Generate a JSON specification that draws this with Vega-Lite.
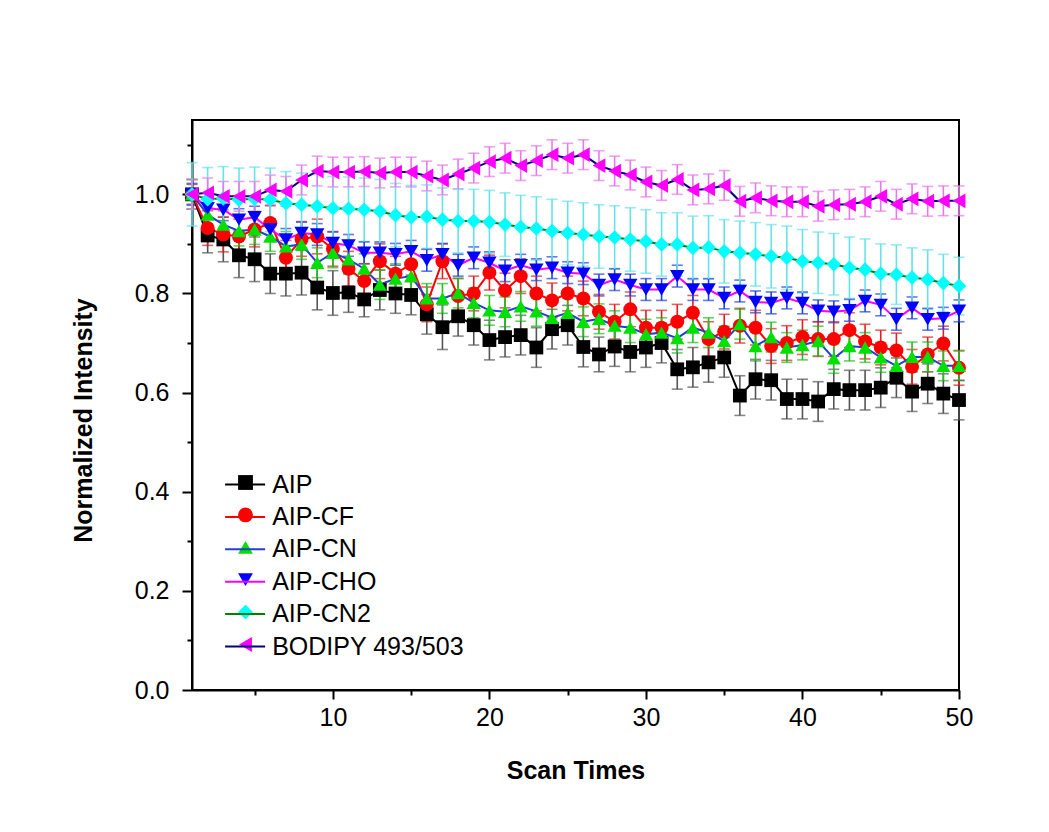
{
  "$schema": "https://vega.github.io/schema/vega-lite/v6.json",
  "width": 767,
  "height": 570,
  "autosize": "none",
  "padding": {"left": 192, "top": 120, "right": 90, "bottom": 142},
  "background": "white",
  "config": {
    "font": "Liberation Sans",
    "view": {"stroke": "black", "strokeWidth": 2},
    "axis": {"domainColor": "black", "domainWidth": 2, "tickColor": "black", "tickWidth": 2, "labelColor": "black", "titleColor": "black", "grid": false, "labelFont": "Liberation Sans", "titleFont": "Liberation Sans"}
  },
  "datasets": {
    "d": [
      {"s":"AIP","x":1,"y":1.0,"e":0.02},{"s":"AIP","x":2,"y":0.917,"e":0.035},{"s":"AIP","x":3,"y":0.909,"e":0.045},{"s":"AIP","x":4,"y":0.877,"e":0.045},{"s":"AIP","x":5,"y":0.869,"e":0.045},{"s":"AIP","x":6,"y":0.84,"e":0.04},{"s":"AIP","x":7,"y":0.84,"e":0.045},{"s":"AIP","x":8,"y":0.842,"e":0.045},{"s":"AIP","x":9,"y":0.812,"e":0.045},{"s":"AIP","x":10,"y":0.801,"e":0.045},
      {"s":"AIP","x":11,"y":0.802,"e":0.04},{"s":"AIP","x":12,"y":0.788,"e":0.035},{"s":"AIP","x":13,"y":0.807,"e":0.04},{"s":"AIP","x":14,"y":0.8,"e":0.04},{"s":"AIP","x":15,"y":0.797,"e":0.04},{"s":"AIP","x":16,"y":0.758,"e":0.04},{"s":"AIP","x":17,"y":0.732,"e":0.045},{"s":"AIP","x":18,"y":0.754,"e":0.04},{"s":"AIP","x":19,"y":0.736,"e":0.04},{"s":"AIP","x":20,"y":0.706,"e":0.04},
      {"s":"AIP","x":21,"y":0.712,"e":0.04},{"s":"AIP","x":22,"y":0.716,"e":0.04},{"s":"AIP","x":23,"y":0.691,"e":0.04},{"s":"AIP","x":24,"y":0.728,"e":0.04},{"s":"AIP","x":25,"y":0.736,"e":0.04},{"s":"AIP","x":26,"y":0.692,"e":0.04},{"s":"AIP","x":27,"y":0.677,"e":0.035},{"s":"AIP","x":28,"y":0.693,"e":0.04},{"s":"AIP","x":29,"y":0.682,"e":0.04},{"s":"AIP","x":30,"y":0.691,"e":0.04},
      {"s":"AIP","x":31,"y":0.7,"e":0.04},{"s":"AIP","x":32,"y":0.647,"e":0.04},{"s":"AIP","x":33,"y":0.651,"e":0.04},{"s":"AIP","x":34,"y":0.661,"e":0.04},{"s":"AIP","x":35,"y":0.671,"e":0.04},{"s":"AIP","x":36,"y":0.594,"e":0.04},{"s":"AIP","x":37,"y":0.627,"e":0.04},{"s":"AIP","x":38,"y":0.625,"e":0.04},{"s":"AIP","x":39,"y":0.587,"e":0.04},{"s":"AIP","x":40,"y":0.587,"e":0.04},
      {"s":"AIP","x":41,"y":0.582,"e":0.04},{"s":"AIP","x":42,"y":0.607,"e":0.04},{"s":"AIP","x":43,"y":0.605,"e":0.04},{"s":"AIP","x":44,"y":0.605,"e":0.04},{"s":"AIP","x":45,"y":0.61,"e":0.04},{"s":"AIP","x":46,"y":0.63,"e":0.04},{"s":"AIP","x":47,"y":0.602,"e":0.04},{"s":"AIP","x":48,"y":0.618,"e":0.04},{"s":"AIP","x":49,"y":0.598,"e":0.04},{"s":"AIP","x":50,"y":0.585,"e":0.04},

      {"s":"AIP-CF","x":1,"y":1.0,"e":0.03},{"s":"AIP-CF","x":2,"y":0.932,"e":0.035},{"s":"AIP-CF","x":3,"y":0.919,"e":0.035},{"s":"AIP-CF","x":4,"y":0.915,"e":0.035},{"s":"AIP-CF","x":5,"y":0.929,"e":0.035},{"s":"AIP-CF","x":6,"y":0.942,"e":0.035},{"s":"AIP-CF","x":7,"y":0.872,"e":0.035},{"s":"AIP-CF","x":8,"y":0.91,"e":0.035},{"s":"AIP-CF","x":9,"y":0.915,"e":0.035},{"s":"AIP-CF","x":10,"y":0.89,"e":0.035},
      {"s":"AIP-CF","x":11,"y":0.85,"e":0.035},{"s":"AIP-CF","x":12,"y":0.825,"e":0.035},{"s":"AIP-CF","x":13,"y":0.865,"e":0.035},{"s":"AIP-CF","x":14,"y":0.84,"e":0.035},{"s":"AIP-CF","x":15,"y":0.859,"e":0.035},{"s":"AIP-CF","x":16,"y":0.778,"e":0.035},{"s":"AIP-CF","x":17,"y":0.865,"e":0.035},{"s":"AIP-CF","x":18,"y":0.795,"e":0.035},{"s":"AIP-CF","x":19,"y":0.8,"e":0.035},{"s":"AIP-CF","x":20,"y":0.842,"e":0.035},
      {"s":"AIP-CF","x":21,"y":0.806,"e":0.035},{"s":"AIP-CF","x":22,"y":0.835,"e":0.035},{"s":"AIP-CF","x":23,"y":0.8,"e":0.035},{"s":"AIP-CF","x":24,"y":0.786,"e":0.035},{"s":"AIP-CF","x":25,"y":0.8,"e":0.035},{"s":"AIP-CF","x":26,"y":0.79,"e":0.035},{"s":"AIP-CF","x":27,"y":0.763,"e":0.035},{"s":"AIP-CF","x":28,"y":0.743,"e":0.035},{"s":"AIP-CF","x":29,"y":0.768,"e":0.035},{"s":"AIP-CF","x":30,"y":0.731,"e":0.035},
      {"s":"AIP-CF","x":31,"y":0.731,"e":0.035},{"s":"AIP-CF","x":32,"y":0.743,"e":0.035},{"s":"AIP-CF","x":33,"y":0.761,"e":0.035},{"s":"AIP-CF","x":34,"y":0.708,"e":0.035},{"s":"AIP-CF","x":35,"y":0.723,"e":0.035},{"s":"AIP-CF","x":36,"y":0.735,"e":0.035},{"s":"AIP-CF","x":37,"y":0.731,"e":0.035},{"s":"AIP-CF","x":38,"y":0.694,"e":0.035},{"s":"AIP-CF","x":39,"y":0.7,"e":0.035},{"s":"AIP-CF","x":40,"y":0.712,"e":0.035},
      {"s":"AIP-CF","x":41,"y":0.708,"e":0.035},{"s":"AIP-CF","x":42,"y":0.708,"e":0.035},{"s":"AIP-CF","x":43,"y":0.726,"e":0.035},{"s":"AIP-CF","x":44,"y":0.703,"e":0.035},{"s":"AIP-CF","x":45,"y":0.691,"e":0.035},{"s":"AIP-CF","x":46,"y":0.685,"e":0.035},{"s":"AIP-CF","x":47,"y":0.652,"e":0.035},{"s":"AIP-CF","x":48,"y":0.677,"e":0.035},{"s":"AIP-CF","x":49,"y":0.699,"e":0.035},{"s":"AIP-CF","x":50,"y":0.65,"e":0.035},

      {"s":"AIP-CN","x":1,"y":1.0,"e":0.03},{"s":"AIP-CN","x":2,"y":0.959,"e":0.03},{"s":"AIP-CN","x":3,"y":0.939,"e":0.03},{"s":"AIP-CN","x":4,"y":0.926,"e":0.03},{"s":"AIP-CN","x":5,"y":0.929,"e":0.03},{"s":"AIP-CN","x":6,"y":0.915,"e":0.03},{"s":"AIP-CN","x":7,"y":0.895,"e":0.03},{"s":"AIP-CN","x":8,"y":0.899,"e":0.03},{"s":"AIP-CN","x":9,"y":0.862,"e":0.03},{"s":"AIP-CN","x":10,"y":0.882,"e":0.03},
      {"s":"AIP-CN","x":11,"y":0.869,"e":0.03},{"s":"AIP-CN","x":12,"y":0.85,"e":0.03},{"s":"AIP-CN","x":13,"y":0.818,"e":0.03},{"s":"AIP-CN","x":14,"y":0.83,"e":0.03},{"s":"AIP-CN","x":15,"y":0.835,"e":0.03},{"s":"AIP-CN","x":16,"y":0.79,"e":0.03},{"s":"AIP-CN","x":17,"y":0.79,"e":0.03},{"s":"AIP-CN","x":18,"y":0.801,"e":0.03},{"s":"AIP-CN","x":19,"y":0.781,"e":0.03},{"s":"AIP-CN","x":20,"y":0.766,"e":0.03},
      {"s":"AIP-CN","x":21,"y":0.763,"e":0.03},{"s":"AIP-CN","x":22,"y":0.774,"e":0.03},{"s":"AIP-CN","x":23,"y":0.764,"e":0.03},{"s":"AIP-CN","x":24,"y":0.751,"e":0.03},{"s":"AIP-CN","x":25,"y":0.761,"e":0.03},{"s":"AIP-CN","x":26,"y":0.743,"e":0.03},{"s":"AIP-CN","x":27,"y":0.749,"e":0.03},{"s":"AIP-CN","x":28,"y":0.735,"e":0.03},{"s":"AIP-CN","x":29,"y":0.731,"e":0.03},{"s":"AIP-CN","x":30,"y":0.718,"e":0.03},
      {"s":"AIP-CN","x":31,"y":0.721,"e":0.03},{"s":"AIP-CN","x":32,"y":0.71,"e":0.03},{"s":"AIP-CN","x":33,"y":0.731,"e":0.03},{"s":"AIP-CN","x":34,"y":0.721,"e":0.03},{"s":"AIP-CN","x":35,"y":0.704,"e":0.03},{"s":"AIP-CN","x":36,"y":0.738,"e":0.03},{"s":"AIP-CN","x":37,"y":0.694,"e":0.03},{"s":"AIP-CN","x":38,"y":0.712,"e":0.03},{"s":"AIP-CN","x":39,"y":0.691,"e":0.03},{"s":"AIP-CN","x":40,"y":0.696,"e":0.03},
      {"s":"AIP-CN","x":41,"y":0.704,"e":0.03},{"s":"AIP-CN","x":42,"y":0.669,"e":0.03},{"s":"AIP-CN","x":43,"y":0.694,"e":0.03},{"s":"AIP-CN","x":44,"y":0.691,"e":0.03},{"s":"AIP-CN","x":45,"y":0.671,"e":0.03},{"s":"AIP-CN","x":46,"y":0.654,"e":0.03},{"s":"AIP-CN","x":47,"y":0.672,"e":0.03},{"s":"AIP-CN","x":48,"y":0.672,"e":0.03},{"s":"AIP-CN","x":49,"y":0.654,"e":0.03},{"s":"AIP-CN","x":50,"y":0.654,"e":0.03},

      {"s":"AIP-CHO","x":1,"y":1.0,"e":0.022},{"s":"AIP-CHO","x":2,"y":0.972,"e":0.022},{"s":"AIP-CHO","x":3,"y":0.969,"e":0.022},{"s":"AIP-CHO","x":4,"y":0.949,"e":0.022},{"s":"AIP-CHO","x":5,"y":0.954,"e":0.022},{"s":"AIP-CHO","x":6,"y":0.929,"e":0.022},{"s":"AIP-CHO","x":7,"y":0.909,"e":0.022},{"s":"AIP-CHO","x":8,"y":0.922,"e":0.022},{"s":"AIP-CHO","x":9,"y":0.919,"e":0.022},{"s":"AIP-CHO","x":10,"y":0.902,"e":0.022},
      {"s":"AIP-CHO","x":11,"y":0.897,"e":0.022},{"s":"AIP-CHO","x":12,"y":0.882,"e":0.022},{"s":"AIP-CHO","x":13,"y":0.882,"e":0.022},{"s":"AIP-CHO","x":14,"y":0.879,"e":0.022},{"s":"AIP-CHO","x":15,"y":0.885,"e":0.022},{"s":"AIP-CHO","x":16,"y":0.867,"e":0.022},{"s":"AIP-CHO","x":17,"y":0.879,"e":0.022},{"s":"AIP-CHO","x":18,"y":0.857,"e":0.022},{"s":"AIP-CHO","x":19,"y":0.872,"e":0.022},{"s":"AIP-CHO","x":20,"y":0.862,"e":0.022},
      {"s":"AIP-CHO","x":21,"y":0.846,"e":0.022},{"s":"AIP-CHO","x":22,"y":0.857,"e":0.022},{"s":"AIP-CHO","x":23,"y":0.848,"e":0.022},{"s":"AIP-CHO","x":24,"y":0.852,"e":0.022},{"s":"AIP-CHO","x":25,"y":0.842,"e":0.022},{"s":"AIP-CHO","x":26,"y":0.84,"e":0.022},{"s":"AIP-CHO","x":27,"y":0.817,"e":0.022},{"s":"AIP-CHO","x":28,"y":0.828,"e":0.022},{"s":"AIP-CHO","x":29,"y":0.817,"e":0.022},{"s":"AIP-CHO","x":30,"y":0.808,"e":0.022},
      {"s":"AIP-CHO","x":31,"y":0.808,"e":0.022},{"s":"AIP-CHO","x":32,"y":0.835,"e":0.022},{"s":"AIP-CHO","x":33,"y":0.808,"e":0.022},{"s":"AIP-CHO","x":34,"y":0.808,"e":0.022},{"s":"AIP-CHO","x":35,"y":0.791,"e":0.022},{"s":"AIP-CHO","x":36,"y":0.805,"e":0.022},{"s":"AIP-CHO","x":37,"y":0.783,"e":0.022},{"s":"AIP-CHO","x":38,"y":0.781,"e":0.022},{"s":"AIP-CHO","x":39,"y":0.791,"e":0.022},{"s":"AIP-CHO","x":40,"y":0.781,"e":0.022},
      {"s":"AIP-CHO","x":41,"y":0.765,"e":0.022},{"s":"AIP-CHO","x":42,"y":0.763,"e":0.022},{"s":"AIP-CHO","x":43,"y":0.766,"e":0.022},{"s":"AIP-CHO","x":44,"y":0.785,"e":0.022},{"s":"AIP-CHO","x":45,"y":0.777,"e":0.022},{"s":"AIP-CHO","x":46,"y":0.748,"e":0.022},{"s":"AIP-CHO","x":47,"y":0.771,"e":0.022},{"s":"AIP-CHO","x":48,"y":0.748,"e":0.022},{"s":"AIP-CHO","x":49,"y":0.75,"e":0.022},{"s":"AIP-CHO","x":50,"y":0.765,"e":0.022},

      {"s":"AIP-CN2","x":1,"y":1.0,"e":0.064},{"s":"AIP-CN2","x":2,"y":0.99,"e":0.064},{"s":"AIP-CN2","x":3,"y":0.992,"e":0.064},{"s":"AIP-CN2","x":4,"y":0.989,"e":0.064},{"s":"AIP-CN2","x":5,"y":0.991,"e":0.064},{"s":"AIP-CN2","x":6,"y":0.989,"e":0.064},{"s":"AIP-CN2","x":7,"y":0.982,"e":0.064},{"s":"AIP-CN2","x":8,"y":0.979,"e":0.064},{"s":"AIP-CN2","x":9,"y":0.976,"e":0.064},{"s":"AIP-CN2","x":10,"y":0.972,"e":0.064},
      {"s":"AIP-CN2","x":11,"y":0.971,"e":0.064},{"s":"AIP-CN2","x":12,"y":0.969,"e":0.064},{"s":"AIP-CN2","x":13,"y":0.966,"e":0.064},{"s":"AIP-CN2","x":14,"y":0.958,"e":0.064},{"s":"AIP-CN2","x":15,"y":0.954,"e":0.064},{"s":"AIP-CN2","x":16,"y":0.955,"e":0.064},{"s":"AIP-CN2","x":17,"y":0.949,"e":0.064},{"s":"AIP-CN2","x":18,"y":0.946,"e":0.064},{"s":"AIP-CN2","x":19,"y":0.946,"e":0.064},{"s":"AIP-CN2","x":20,"y":0.944,"e":0.064},
      {"s":"AIP-CN2","x":21,"y":0.939,"e":0.064},{"s":"AIP-CN2","x":22,"y":0.934,"e":0.064},{"s":"AIP-CN2","x":23,"y":0.931,"e":0.064},{"s":"AIP-CN2","x":24,"y":0.926,"e":0.064},{"s":"AIP-CN2","x":25,"y":0.922,"e":0.064},{"s":"AIP-CN2","x":26,"y":0.919,"e":0.064},{"s":"AIP-CN2","x":27,"y":0.915,"e":0.064},{"s":"AIP-CN2","x":28,"y":0.913,"e":0.064},{"s":"AIP-CN2","x":29,"y":0.909,"e":0.064},{"s":"AIP-CN2","x":30,"y":0.905,"e":0.064},
      {"s":"AIP-CN2","x":31,"y":0.899,"e":0.064},{"s":"AIP-CN2","x":32,"y":0.899,"e":0.064},{"s":"AIP-CN2","x":33,"y":0.892,"e":0.064},{"s":"AIP-CN2","x":34,"y":0.893,"e":0.064},{"s":"AIP-CN2","x":35,"y":0.885,"e":0.064},{"s":"AIP-CN2","x":36,"y":0.882,"e":0.064},{"s":"AIP-CN2","x":37,"y":0.879,"e":0.064},{"s":"AIP-CN2","x":38,"y":0.875,"e":0.064},{"s":"AIP-CN2","x":39,"y":0.872,"e":0.064},{"s":"AIP-CN2","x":40,"y":0.865,"e":0.064},
      {"s":"AIP-CN2","x":41,"y":0.862,"e":0.062},{"s":"AIP-CN2","x":42,"y":0.859,"e":0.062},{"s":"AIP-CN2","x":43,"y":0.852,"e":0.062},{"s":"AIP-CN2","x":44,"y":0.848,"e":0.062},{"s":"AIP-CN2","x":45,"y":0.84,"e":0.06},{"s":"AIP-CN2","x":46,"y":0.838,"e":0.06},{"s":"AIP-CN2","x":47,"y":0.832,"e":0.06},{"s":"AIP-CN2","x":48,"y":0.828,"e":0.06},{"s":"AIP-CN2","x":49,"y":0.821,"e":0.058},{"s":"AIP-CN2","x":50,"y":0.815,"e":0.058},

      {"s":"BODIPY 493/503","x":1,"y":1.0,"e":0.03},{"s":"BODIPY 493/503","x":2,"y":1.003,"e":0.03},{"s":"BODIPY 493/503","x":3,"y":0.996,"e":0.03},{"s":"BODIPY 493/503","x":4,"y":0.996,"e":0.03},{"s":"BODIPY 493/503","x":5,"y":0.996,"e":0.03},{"s":"BODIPY 493/503","x":6,"y":1.009,"e":0.03},{"s":"BODIPY 493/503","x":7,"y":1.006,"e":0.03},{"s":"BODIPY 493/503","x":8,"y":1.029,"e":0.03},{"s":"BODIPY 493/503","x":9,"y":1.047,"e":0.03},{"s":"BODIPY 493/503","x":10,"y":1.045,"e":0.03},
      {"s":"BODIPY 493/503","x":11,"y":1.045,"e":0.03},{"s":"BODIPY 493/503","x":12,"y":1.046,"e":0.03},{"s":"BODIPY 493/503","x":13,"y":1.043,"e":0.03},{"s":"BODIPY 493/503","x":14,"y":1.045,"e":0.03},{"s":"BODIPY 493/503","x":15,"y":1.045,"e":0.03},{"s":"BODIPY 493/503","x":16,"y":1.037,"e":0.03},{"s":"BODIPY 493/503","x":17,"y":1.029,"e":0.03},{"s":"BODIPY 493/503","x":18,"y":1.041,"e":0.03},{"s":"BODIPY 493/503","x":19,"y":1.053,"e":0.03},{"s":"BODIPY 493/503","x":20,"y":1.066,"e":0.03},
      {"s":"BODIPY 493/503","x":21,"y":1.073,"e":0.03},{"s":"BODIPY 493/503","x":22,"y":1.058,"e":0.03},{"s":"BODIPY 493/503","x":23,"y":1.068,"e":0.03},{"s":"BODIPY 493/503","x":24,"y":1.08,"e":0.03},{"s":"BODIPY 493/503","x":25,"y":1.073,"e":0.03},{"s":"BODIPY 493/503","x":26,"y":1.08,"e":0.03},{"s":"BODIPY 493/503","x":27,"y":1.058,"e":0.03},{"s":"BODIPY 493/503","x":28,"y":1.047,"e":0.03},{"s":"BODIPY 493/503","x":29,"y":1.039,"e":0.03},{"s":"BODIPY 493/503","x":30,"y":1.025,"e":0.03},
      {"s":"BODIPY 493/503","x":31,"y":1.018,"e":0.03},{"s":"BODIPY 493/503","x":32,"y":1.03,"e":0.03},{"s":"BODIPY 493/503","x":33,"y":1.009,"e":0.03},{"s":"BODIPY 493/503","x":34,"y":1.011,"e":0.03},{"s":"BODIPY 493/503","x":35,"y":1.018,"e":0.03},{"s":"BODIPY 493/503","x":36,"y":0.986,"e":0.03},{"s":"BODIPY 493/503","x":37,"y":0.993,"e":0.03},{"s":"BODIPY 493/503","x":38,"y":0.987,"e":0.03},{"s":"BODIPY 493/503","x":39,"y":0.985,"e":0.03},{"s":"BODIPY 493/503","x":40,"y":0.985,"e":0.03},
      {"s":"BODIPY 493/503","x":41,"y":0.976,"e":0.03},{"s":"BODIPY 493/503","x":42,"y":0.979,"e":0.03},{"s":"BODIPY 493/503","x":43,"y":0.98,"e":0.03},{"s":"BODIPY 493/503","x":44,"y":0.985,"e":0.03},{"s":"BODIPY 493/503","x":45,"y":0.996,"e":0.03},{"s":"BODIPY 493/503","x":46,"y":0.98,"e":0.03},{"s":"BODIPY 493/503","x":47,"y":0.991,"e":0.03},{"s":"BODIPY 493/503","x":48,"y":0.986,"e":0.03},{"s":"BODIPY 493/503","x":49,"y":0.987,"e":0.03},{"s":"BODIPY 493/503","x":50,"y":0.987,"e":0.03}
    ]
  },
  "data": {"name": "d"},
  "encoding": {
    "x": {
      "field": "x", "type": "quantitative",
      "scale": {"domain": [1, 50], "nice": false, "zero": false},
      "axis": {
        "title": "Scan Times", "titleFontSize": 25, "titleFontWeight": "bold",
        "titleBaseline": "alphabetic", "titleY": 88,
        "values": [5, 10, 15, 20, 25, 30, 35, 40, 45, 50],
        "labelExpr": "datum.value % 10 === 0 ? datum.label : ''",
        "labelFontSize": 25, "labelPadding": 6,
        "tickSize": {"condition": {"test": "datum.value % 10 === 0", "value": 9}, "value": 5},
        "labelFlush": false
      }
    },
    "y": {
      "field": "y", "type": "quantitative",
      "scale": {"domain": [0, 1.15], "nice": false, "zero": false},
      "axis": {
        "title": "Normalized Intensity", "titleFontSize": 25, "titleFontWeight": "bold",
        "titleX": -109, "titleY": 300, "titleBaseline": "middle", "titleAlign": "center", "titleAngle": -90,
        "values": [0, 0.1, 0.2, 0.3, 0.4, 0.5, 0.6, 0.7, 0.8, 0.9, 1.0, 1.1],
        "format": ".1f",
        "labelExpr": "round(datum.value * 10) % 2 === 0 ? datum.label : ''",
        "labelFontSize": 25, "labelPadding": 13,
        "tickSize": {"condition": {"test": "round(datum.value * 10) % 2 === 0", "value": 10}, "value": 5}
      }
    }
  },
  "layer": [
    {
      "mark": {"type": "point", "filled": true, "opacity": 1, "strokeWidth": 0},
      "encoding": {
        "fill": {
          "field": "s", "type": "nominal",
          "scale": {"domain": ["AIP", "AIP-CF", "AIP-CN", "AIP-CHO", "AIP-CN2", "BODIPY 493/503"],
                    "range": ["#000000", "#ff0000", "#00e000", "#0000ff", "#00ffff", "#ff00ff"]},
          "legend": {
            "title": null, "orient": "none", "direction": "vertical", "legendX": 41, "legendY": 350,
            "symbolSize": 220, "symbolStrokeWidth": 0, "symbolOpacity": 1,
            "labelFontSize": 25, "labelFont": "Liberation Sans", "labelExpr": "''", "labelLimit": 400,
            "labelOffset": 8, "rowPadding": 6.4
          }
        },
        "shape": {
          "field": "s", "type": "nominal",
          "scale": {"domain": ["AIP", "AIP-CF", "AIP-CN", "AIP-CHO", "AIP-CN2", "BODIPY 493/503"],
                    "range": ["square", "circle", "triangle-up", "triangle-down", "diamond", "triangle-left"]},
          "legend": {
            "title": null, "orient": "none", "direction": "vertical", "legendX": 41, "legendY": 350,
            "symbolSize": 220, "symbolStrokeWidth": 0, "symbolOpacity": 1,
            "labelFontSize": 25, "labelFont": "Liberation Sans", "labelExpr": "''", "labelLimit": 400,
            "labelOffset": 8, "rowPadding": 6.4
          }
        }
      }
    },
    {
      "mark": {"type": "errorbar", "ticks": {"size": 11, "thickness": 1.6}, "rule": {"strokeWidth": 1.6}},
      "encoding": {
        "yError": {"field": "e"},
        "color": {
          "field": "s", "type": "nominal", "legend": null,
          "sort": ["AIP", "AIP-CF", "AIP-CN", "AIP-CHO", "AIP-CN2", "BODIPY 493/503"],
          "scale": {"range": ["#555555", "#e02020", "#20c020", "#2040e0", "#66e3ea", "#e878ee"]}
        }
      }
    },
    {
      "mark": {"type": "line", "strokeWidth": 2},
      "encoding": {
        "stroke": {
          "field": "s", "type": "nominal",
          "scale": {"domain": ["AIP", "AIP-CF", "AIP-CN", "AIP-CHO", "AIP-CN2", "BODIPY 493/503"],
                    "range": ["#000000", "#ff0000", "#1f3fd8", "#ff00ff", "#008000", "#000080"]},
          "legend": {
            "title": null, "orient": "bottom-left", "direction": "vertical", "offset": 30.4,
            "symbolType": "M-2,0H2", "symbolSize": 400, "symbolStrokeWidth": 2, "symbolOffset": 10.6,
            "labelFontSize": 25, "labelFont": "Liberation Sans", "labelColor": "black", "labelLimit": 400,
            "labelOffset": 14.6, "rowPadding": 6.4
          }
        }
      }
    },
    {
      "mark": {"type": "point", "filled": true, "opacity": 1, "strokeWidth": 0},
      "encoding": {
        "fill": {
          "field": "s", "type": "nominal",
          "legend": {
            "title": null, "orient": "none", "direction": "vertical", "legendX": 41, "legendY": 350,
            "symbolSize": 220, "symbolStrokeWidth": 0, "symbolOpacity": 1,
            "labelFontSize": 25, "labelFont": "Liberation Sans", "labelExpr": "''", "labelLimit": 400,
            "labelOffset": 8, "rowPadding": 6.4
          }
        },
        "shape": {
          "field": "s", "type": "nominal",
          "legend": {
            "title": null, "orient": "none", "direction": "vertical", "legendX": 41, "legendY": 350,
            "symbolSize": 220, "symbolStrokeWidth": 0, "symbolOpacity": 1,
            "labelFontSize": 25, "labelFont": "Liberation Sans", "labelExpr": "''", "labelLimit": 400,
            "labelOffset": 8, "rowPadding": 6.4
          }
        },
        "size": {
          "field": "s", "type": "nominal", "legend": null,
          "sort": ["AIP", "AIP-CF", "AIP-CN", "AIP-CHO", "AIP-CN2", "BODIPY 493/503"],
          "scale": {"range": [190, 220, 280, 300, 260, 300]}
        }
      }
    }
  ]
}
